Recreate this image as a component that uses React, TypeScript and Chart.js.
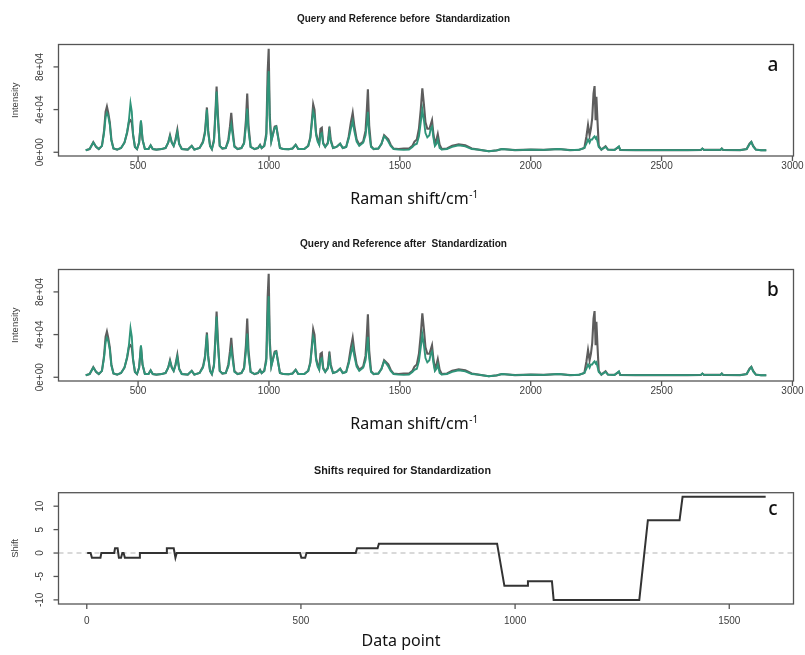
import React, { useEffect, useRef } from "react";
import { Chart, registerables } from "chart.js";
Chart.register(...registerables);

// ---------- data ----------
const ramanShift = [
  300, 315, 329, 340, 350, 362, 370, 376, 381, 386,
  392, 398, 406, 420, 435, 448, 458, 465, 471, 476,
  481, 488, 496, 504, 511, 517, 526, 540, 548, 556,
  570, 590, 605, 615, 622, 629, 636, 643, 650, 657,
  667, 690, 705, 715, 735, 748, 756, 763, 768, 775,
  782, 790, 796, 800, 805, 812, 822, 835, 845, 851,
  856, 861, 868, 880, 895, 905, 912, 917, 922, 930,
  945, 958, 966, 972, 982, 990, 995, 999, 1003, 1009,
  1016, 1022, 1028, 1034, 1042, 1055, 1075, 1090, 1102, 1112,
  1135, 1150, 1158, 1164, 1169, 1174, 1180, 1186, 1192, 1197,
  1202, 1207, 1215, 1225, 1231, 1236, 1245, 1258, 1272, 1282,
  1295, 1305, 1313, 1320, 1326, 1335, 1345, 1360, 1369, 1374,
  1378, 1383, 1390, 1400, 1418, 1430, 1440, 1448, 1456, 1465,
  1476, 1495, 1515, 1535, 1548, 1556, 1565, 1573, 1580, 1586,
  1592, 1598, 1605, 1613, 1618, 1623, 1628, 1634, 1640, 1645,
  1652, 1660, 1680, 1700, 1725, 1750, 1775, 1800, 1840, 1870,
  1890, 1940, 2000, 2050, 2107, 2150, 2185, 2205, 2213, 2219,
  2225, 2230, 2235, 2240, 2244, 2248, 2251, 2255, 2260, 2270,
  2286, 2295, 2320, 2337, 2342, 2400, 2500, 2600, 2650, 2656,
  2662, 2725, 2730, 2735, 2800, 2825, 2836, 2843, 2850, 2860,
  2880, 2900,
];

// grey trace
const queryIntensity = [
  1900, 3000, 9500, 5000, 3000, 6000, 20000, 38000, 42800, 37000,
  28000, 12000, 3500, 2500, 4000, 9000, 18000, 28000, 30000, 28000,
  16000, 5000, 3000, 9000, 29000, 12000, 3000, 3000, 6500, 3000,
  2500, 3000, 4000, 9000, 16000, 9000, 6000, 12000, 21000, 8000,
  3000, 2500, 6000, 2500, 4000, 10000, 20000, 42000, 20000, 6000,
  3000, 12000, 40000, 61500, 35000, 6000, 3500, 4000, 12000, 24000,
  37000, 22000, 6000, 3000, 4000, 9000, 30000, 55000, 25000, 5000,
  3000, 4000, 7000, 4000, 6000, 18000, 75000, 97000, 35000, 11000,
  18000, 24000, 24500, 16000, 4000, 3000, 2800, 3500, 7000, 3000,
  3000, 6000, 14000, 30000, 45000, 40000, 18000, 12000, 8000, 22000,
  23000, 9000, 5000, 9000, 24000, 12000, 4000, 5000, 8000, 4000,
  5000, 15000, 28000, 37000, 25000, 12000, 7000, 10000, 20000, 40000,
  59000, 25000, 6000, 3000, 3500, 8000, 16000, 14000, 12000, 7000,
  3500, 3000, 3500, 3500, 6000, 10000, 12000, 22000, 40000, 60000,
  45000, 28000, 22000, 22000, 26000, 30000, 18000, 8000, 12000, 17000,
  7000, 3000, 3500, 6000, 7500, 6500, 3500, 2500, 1000, 1800,
  3000, 2000, 2500, 2200, 3000, 2000, 2300, 4000, 15000, 25500,
  16000, 22000, 32000, 55000, 62000, 30000, 52000, 30000, 6000, 2500,
  5700, 2500, 2200, 5000, 2200, 2000, 2000, 2000, 2200, 3500,
  2200, 2200, 3500, 2200, 2000, 3000, 8000, 9800, 6000, 2500,
  1900, 1900,
];

// green trace
const referenceIntensity = [
  1900, 3000, 9000, 5000, 3000, 6000, 18000, 33000, 37000, 34000,
  26000, 11000, 3500, 2500, 4000, 9000, 19000, 30000, 46000, 38000,
  17000, 5000, 3000, 9000, 30000, 12000, 3000, 3000, 6500, 3000,
  2500, 3000, 4000, 9000, 15000, 9000, 6000, 11000, 19000, 7500,
  3000, 2500, 6000, 2500, 4000, 9000, 18000, 40000, 18000, 6000,
  3000, 10000, 36000, 57000, 30000, 6000, 3500, 4000, 10000, 20000,
  26000, 17000, 5000, 3000, 4000, 8000, 24000, 41000, 20000, 5000,
  3000, 4000, 6500, 4000, 6000, 15000, 58000, 76000, 30000, 10000,
  17000, 23000, 24000, 15000, 4000, 3000, 2800, 3500, 7000, 3000,
  3000, 6000, 13000, 27000, 38000, 34000, 16000, 10000, 7000, 17000,
  18000, 8000, 5000, 8000, 19000, 10000, 4000, 5000, 8000, 4000,
  5000, 13000, 22000, 29000, 20000, 10000, 6000, 9000, 16000, 26000,
  38000, 18000, 5000, 3000, 3500, 8000, 15000, 13000, 10000, 6000,
  3000, 2500, 2200, 2500, 5000, 7000, 8000, 15000, 28000, 40000,
  30000, 18000, 14000, 16000, 22000, 24000, 14000, 6000, 8000, 12000,
  4000, 2500, 3000, 5000, 6500, 5500, 3000, 2500, 1000, 1800,
  3000, 2000, 2500, 2200, 3000, 2000, 2300, 4000, 8000, 12000,
  9000, 12000, 12000, 14000, 15000, 13000, 14000, 10000, 5000, 2500,
  5000, 2500, 2200, 5500, 2200, 2000, 2000, 2000, 2200, 3500,
  2200, 2200, 3500, 2200, 2000, 3000, 7500, 9500, 5500, 2500,
  1900, 1900,
];

const spectrumXTicks = [500, 1000, 1500, 2000, 2500, 3000];
const spectrumXTickLabels = ["500", "1000", "1500", "2000", "2500", "3000"];
const spectrumYTicks = [0, 40000, 80000];
const spectrumYTickLabels = ["0e+00", "4e+04", "8e+04"];

const shiftIndex = [
  1, 9, 12, 32, 34, 64, 66, 72, 75, 80,
  83, 86, 89, 122, 124, 185, 187, 203, 207, 210,
  498, 501, 510, 513, 628, 631, 679, 682, 958, 975,
  1028, 1030, 1086, 1090, 1290, 1310, 1384, 1391, 1585,
];
const shiftValue = [
  0, 0, -1, -1, 0, 0, 1, 1, -1, -1,
  0, 0, -1, -1, 0, 0, 1, 1, -1, 0,
  0, -1, -1, 0, 0, 1, 1, 2, 2, -7,
  -7, -6, -6, -10, -10, 7, 7, 12, 12,
];
const shiftXTicks = [0, 500, 1000, 1500];
const shiftXTickLabels = ["0", "500", "1000", "1500"];
const shiftYTicks = [-10, -5, 0, 5, 10];
const shiftYTickLabels = ["-10", "-5", "0", "5", "10"];

// ---------- layout / style ----------
const W = 805;
const PLOT_LEFT = 58.5;
const PLOT_RIGHT = 793.5;
const GREY = "#5d5d5d";
const GREEN = "#2f9479";
const TICK_FONT = "10px 'Liberation Sans', Arial, sans-serif";
const TICK_COLOR = "#3c3c3c";

type Deco = {
  title: string;
  titleX: number;
  titleY: number;
  titleW: number;
  xTicks: number[];
  xTickLabels: string[];
  xTickLabelY: number;
  yTicks: number[];
  yTickLabels: string[];
  xLabel: string;
  xLabelSup?: string;
  xLabelX: number;
  xLabelY: number;
  yLabel: string;
  letter: string;
  letterY: number;
  zeroLine?: number;
};

function makePlugin(d: Deco) {
  return {
    id: "rStyle",
    beforeDatasetsDraw(chart: any) {
      if (d.zeroLine === undefined) return;
      const { ctx, chartArea: ca, scales } = chart;
      const py = scales.y.getPixelForValue(d.zeroLine);
      ctx.save();
      ctx.strokeStyle = "#cdcdcd";
      ctx.lineWidth = 1.5;
      ctx.setLineDash([5, 4]);
      ctx.beginPath();
      ctx.moveTo(ca.left, py);
      ctx.lineTo(ca.right, py);
      ctx.stroke();
      ctx.restore();
    },
    afterDraw(chart: any) {
      const { ctx, chartArea: ca, scales } = chart;
      ctx.save();
      // box
      ctx.strokeStyle = "#555";
      ctx.lineWidth = 1.3;
      ctx.strokeRect(ca.left, ca.top, ca.right - ca.left, ca.bottom - ca.top);
      // x ticks
      ctx.font = TICK_FONT;
      ctx.fillStyle = TICK_COLOR;
      ctx.textAlign = "center";
      ctx.textBaseline = "middle";
      d.xTicks.forEach((v, i) => {
        const px = scales.x.getPixelForValue(v);
        ctx.beginPath();
        ctx.moveTo(px, ca.bottom);
        ctx.lineTo(px, ca.bottom + 5);
        ctx.stroke();
        ctx.fillText(d.xTickLabels[i], px, d.xTickLabelY);
      });
      // y ticks
      d.yTicks.forEach((v, i) => {
        const py = scales.y.getPixelForValue(v);
        ctx.beginPath();
        ctx.moveTo(ca.left - 5, py);
        ctx.lineTo(ca.left, py);
        ctx.stroke();
        ctx.save();
        ctx.translate(40.5, py);
        ctx.rotate(-Math.PI / 2);
        ctx.fillText(d.yTickLabels[i], 0, 0);
        ctx.restore();
      });
      // y label
      ctx.save();
      ctx.font = "9.5px 'Liberation Sans', Arial, sans-serif";
      ctx.translate(15, (ca.top + ca.bottom) / 2);
      ctx.rotate(-Math.PI / 2);
      ctx.fillText(d.yLabel, 0, 0);
      ctx.restore();
      // title (condensed bold)
      ctx.save();
      ctx.font = "bold 11px 'Liberation Sans', Arial, sans-serif";
      ctx.fillStyle = "#1a1a1a";
      const tw = ctx.measureText(d.title).width;
      ctx.translate(d.titleX, d.titleY);
      ctx.scale(d.titleW / tw, 1);
      ctx.fillText(d.title, 0, 0);
      ctx.restore();
      // x label
      ctx.save();
      ctx.fillStyle = "#111";
      ctx.textAlign = "left";
      ctx.font = "16px 'Noto Sans', sans-serif";
      const w1 = ctx.measureText(d.xLabel).width;
      let w2 = 0;
      if (d.xLabelSup) {
        ctx.font = "10px 'Noto Sans', sans-serif";
        w2 = ctx.measureText(d.xLabelSup).width;
      }
      const x0 = d.xLabelX - (w1 + w2) / 2;
      ctx.font = "16px 'Noto Sans', sans-serif";
      ctx.fillText(d.xLabel, x0, d.xLabelY);
      if (d.xLabelSup) {
        ctx.font = "10px 'Noto Sans', sans-serif";
        ctx.fillText(d.xLabelSup, x0 + w1 + 0.5, d.xLabelY - 4);
      }
      ctx.restore();
      // panel letter
      ctx.save();
      ctx.fillStyle = "#111";
      ctx.font = "500 19px 'Noto Sans', sans-serif";
      ctx.fillText(d.letter, 773, d.letterY);
      ctx.restore();
      ctx.restore();
    },
  };
}

type PlotProps = {
  top: number;
  height: number;
  plotTop: number;
  plotBottom: number;
  datasets: any[];
  xRange: [number, number];
  yRange: [number, number];
  deco: Deco;
};

function RPlot(p: PlotProps) {
  const ref = useRef<HTMLCanvasElement>(null);
  useEffect(() => {
    const chart = new Chart(ref.current as HTMLCanvasElement, {
      type: "line",
      data: { datasets: p.datasets },
      options: {
        animation: false,
        responsive: false,
        events: [],
        layout: {
          padding: {
            left: PLOT_LEFT,
            right: W - PLOT_RIGHT,
            top: p.plotTop,
            bottom: p.height - p.plotBottom,
          },
        },
        scales: {
          x: { type: "linear", min: p.xRange[0], max: p.xRange[1], display: false },
          y: { type: "linear", min: p.yRange[0], max: p.yRange[1], display: false },
        },
        elements: { point: { radius: 0 }, line: { tension: 0 } },
        plugins: { legend: { display: false }, tooltip: { enabled: false } },
      } as any,
      plugins: [makePlugin(p.deco)],
    });
    return () => chart.destroy();
  }, []);
  return (
    <canvas
      ref={ref}
      width={W}
      height={p.height}
      style={{ position: "absolute", left: 0, top: p.top, width: W, height: p.height }}
    />
  );
}

function spectrumDatasets() {
  return [
    {
      label: "Reference",
      data: ramanShift.map((x, i) => ({ x, y: referenceIntensity[i] })),
      borderColor: GREEN,
      borderWidth: 1.9,
      fill: false,
    },
    {
      label: "Query",
      data: ramanShift.map((x, i) => ({ x, y: queryIntensity[i] })),
      borderColor: GREY,
      borderWidth: 2.1,
      fill: false,
    },
  ];
}

function spectrumDeco(title: string, titleW: number, letter: string): Deco {
  return {
    title,
    titleX: 403.5,
    titleY: 19,
    titleW,
    xTicks: spectrumXTicks,
    xTickLabels: spectrumXTickLabels,
    xTickLabelY: 166,
    yTicks: spectrumYTicks,
    yTickLabels: spectrumYTickLabels,
    xLabel: "Raman shift/cm",
    xLabelSup: "-1",
    xLabelX: 414,
    xLabelY: 199,
    yLabel: "Intensity",
    letter,
    letterY: 66,
  };
}

export default function App() {
  const shiftDeco: Deco = {
    title: "Shifts required for Standardization",
    titleX: 402.5,
    titleY: 21,
    titleW: 177,
    xTicks: shiftXTicks,
    xTickLabels: shiftXTickLabels,
    xTickLabelY: 171,
    yTicks: shiftYTicks,
    yTickLabels: shiftYTickLabels,
    xLabel: "Data point",
    xLabelX: 401,
    xLabelY: 191,
    yLabel: "Shift",
    letter: "c",
    letterY: 60,
    zeroLine: 0,
  };
  const shiftDatasets = [
    {
      label: "Shift",
      data: shiftIndex.map((x, i) => ({ x, y: shiftValue[i] })),
      borderColor: "#333",
      borderWidth: 2,
      fill: false,
    },
  ];
  return (
    <div style={{ position: "absolute", left: 0, top: 0, width: W, height: 655, background: "#fff" }}>
      <RPlot
        top={0}
        height={225}
        plotTop={44.5}
        plotBottom={156}
        datasets={spectrumDatasets()}
        xRange={[196, 3004]}
        yRange={[-3500, 101000]}
        deco={spectrumDeco("Query and Reference before  Standardization", 213, "a")}
      />
      <RPlot
        top={225}
        height={225}
        plotTop={44.5}
        plotBottom={156}
        datasets={spectrumDatasets()}
        xRange={[196, 3004]}
        yRange={[-3500, 101000]}
        deco={spectrumDeco("Query and Reference after  Standardization", 207, "b")}
      />
      <RPlot
        top={450}
        height={205}
        plotTop={42.7}
        plotBottom={154}
        datasets={shiftDatasets}
        xRange={[-66, 1650]}
        yRange={[-10.88, 12.88]}
        deco={shiftDeco}
      />
    </div>
  );
}
